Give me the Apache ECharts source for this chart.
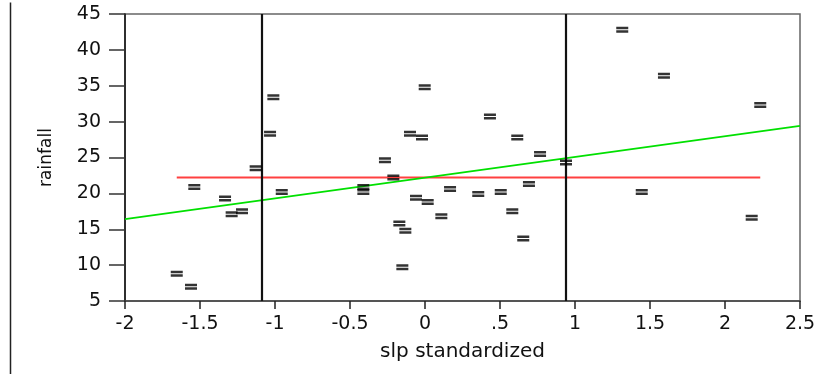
<!DOCTYPE html>
<html>
<head>
<meta charset="utf-8">
<script src="https://cdn.jsdelivr.net/npm/echarts@6/dist/echarts.min.js"></script>
<style>
html,body{margin:0;padding:0;background:#fff;}
#chart{width:825px;height:374px;}
</style>
</head>
<body>
<div id="chart"></div>
<script>
// ---- data ----
const slpX = [-1.655, -1.56, -1.538, -1.333, -1.289, -1.22, -1.129, -1.033, -1.011, -0.955,
  -0.411, -0.411, -0.267, -0.211, -0.171, -0.151, -0.131, -0.1, -0.06, -0.02,
  -0.002, 0.018, 0.109, 0.167, 0.355, 0.433, 0.505, 0.582, 0.615, 0.655,
  0.693, 0.767, 0.94, 1.315, 1.445, 1.593, 2.178, 2.235];
const rainfallY = [8.8, 7.0, 20.9, 19.3, 17.1, 17.5, 23.5, 28.3, 33.4, 20.2,
  20.9, 20.2, 24.6, 22.2, 15.8, 9.7, 14.8, 28.3, 19.4, 27.8,
  34.8, 18.8, 16.8, 20.6, 19.9, 30.7, 20.2, 17.5, 27.8, 13.7,
  21.3, 25.5, 24.3, 42.8, 20.2, 36.4, 16.6, 32.3];
const meanLineX = [-1.655, 2.235];
const meanLineY = [22.2, 22.2];
const fitLineX = [-2, 2.5];
const fitLineY = [16.4, 29.4];
const cutX = [-1.095, 0.945];
const xTickValues = [-2, -1.5, -1, -0.5, 0, 0.5, 1, 1.5, 2, 2.5];
const xTickLabels = ['-2', '-1.5', '-1', '-0.5', '0', '.5', '1', '1.5', '2', '2.5'];
const yTickLabels = ['5', '10', '15', '20', '25', '30', '35', '40', '45'];

const FONT = '"DejaVu Sans", "Liberation Sans", Arial, sans-serif';
const chart = echarts.init(document.getElementById('chart'), null, {renderer: 'canvas'});

const points = slpX.map((x, i) => [x, rainfallY[i]]);
const meanLine = meanLineX.map((x, i) => [x, meanLineY[i]]);
const fitLine = fitLineX.map((x, i) => [x, fitLineY[i]]);

chart.setOption({
  animation: false,
  backgroundColor: '#fff',
  grid: {
    left: 125, right: 25, top: 14, bottom: 73,
    containLabel: false,
    show: true, borderColor: '#666', borderWidth: 1.5, backgroundColor: 'transparent'
  },
  xAxis: {
    type: 'value', min: -2, max: 2.5, interval: 0.5,
    name: 'slp standardized', nameLocation: 'middle', nameGap: 41,
    nameTextStyle: {fontFamily: FONT, fontSize: 20, color: '#111'},
    axisLine: {show: true, onZero: false, lineStyle: {color: '#444', width: 1.5}},
    axisTick: {show: true, length: 8, lineStyle: {color: '#222', width: 1.5}},
    axisLabel: {
      margin: 14, fontFamily: FONT, fontSize: 19, color: '#111',
      formatter: v => {
        const k = xTickValues.findIndex(t => Math.abs(t - v) < 1e-9);
        return k >= 0 ? xTickLabels[k] : '';
      }
    },
    splitLine: {show: false}
  },
  yAxis: {
    type: 'value', min: 5, max: 45, interval: 5,
    name: 'rainfall', nameLocation: 'middle', nameGap: 70, nameRotate: 90,
    nameTextStyle: {fontFamily: FONT, fontSize: 17, color: '#111'},
    axisLine: {show: true, onZero: false, lineStyle: {color: '#111', width: 1.5}},
    axisTick: {show: true, length: 16, lineStyle: {color: '#333', width: 1.5}},
    axisLabel: {
      margin: 24, fontFamily: FONT, fontSize: 19, color: '#111',
      formatter: v => {
        const k = Math.round((v - 5) / 5);
        return yTickLabels[k] !== undefined ? yTickLabels[k] : '';
      }
    },
    splitLine: {show: false}
  },
  graphic: [{
    type: 'line', left: 8, top: 0,
    shape: {x1: 0, y1: 0, x2: 0, y2: 372},
    style: {stroke: '#222', lineWidth: 1.5}
  }],
  series: [
    {
      type: 'line', data: meanLine, symbol: 'none', silent: true,
      color: '#ff0000',
      itemStyle: {color: '#ff0000'},
      lineStyle: {color: '#ff0000', width: 2, opacity: 0.75}, z: 2
    },
    {
      type: 'line', data: fitLine, symbol: 'none', silent: true,
      color: '#00e000',
      itemStyle: {color: '#00e000'},
      lineStyle: {color: '#00e000', width: 1.8}, z: 3
    },
    {
      type: 'scatter', data: points,
      symbol: 'path://M0,0H12V2.5H0Z M0,3.5H12V6H0Z',
      symbolSize: [12, 6],
      itemStyle: {color: '#000'},
      z: 5,
      markLine: {
        silent: true, symbol: 'none', animation: false,
        label: {show: false},
        lineStyle: {color: '#111', width: 2.2, type: 'solid'},
        data: cutX.map(x => ({xAxis: x}))
      }
    }
  ]
});
</script>
</body>
</html>
